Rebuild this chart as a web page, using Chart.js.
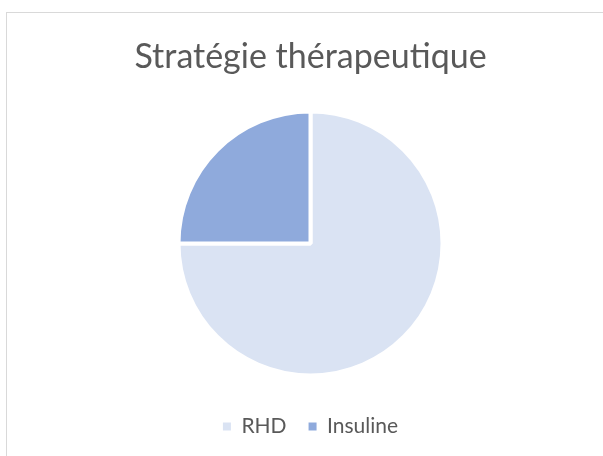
<!DOCTYPE html>
<html>
<head>
<meta charset="utf-8">
<script src="https://cdn.jsdelivr.net/npm/chart.js@4.4.1/dist/chart.umd.min.js"></script>
<style>
  html, body { margin: 0; padding: 0; background: #fff; overflow: hidden; }
  #frame {
    position: absolute; left: 6px; top: 12px;
    width: 610px; height: 443px;
    border-left: 1px solid #d9d9d9; border-top: 1px solid #d9d9d9;
  }
  #chart { display: block; }
</style>
</head>
<body>
<div id="frame"><canvas id="chart" width="610" height="443"></canvas></div>
<script>
'use strict';

// données
const titre = 'Stratégie thérapeutique';
const categories = ['RHD', 'Insuline'];
const valeurs = [75, 25];
const couleurs = ['#DAE3F3', '#8FAADC'];

const defaultLabels = Chart.overrides.pie.plugins.legend.labels.generateLabels;

const ctx = document.getElementById('chart').getContext('2d');
new Chart(ctx, {
  type: 'pie',
  data: {
    labels: categories,
    datasets: [{
      data: valeurs,
      backgroundColor: couleurs,
      borderColor: '#ffffff',
      borderWidth: 4,
      radius: 132
    }]
  },
  options: {
    responsive: false,
    animation: false,
    layout: { padding: { left: 0, right: 3, top: 0, bottom: 9 } },
    plugins: {
      title: {
        display: true,
        text: titre,
        color: '#595959',
        font: { family: 'Lato', size: 34, weight: 'normal' },
        padding: { top: 24, bottom: 15 }
      },
      legend: {
        position: 'bottom',
        labels: {
          color: '#595959',
          font: { family: 'Lato', size: 21 },
          boxWidth: 8,
          boxHeight: 8,
          padding: 22,
          // pas de contour blanc autour des carrés
          generateLabels: chart => defaultLabels(chart).map(l => ({ ...l, lineWidth: 0 }))
        }
      },
      tooltip: { enabled: false }
    }
  }
});
</script>
</body>
</html>
